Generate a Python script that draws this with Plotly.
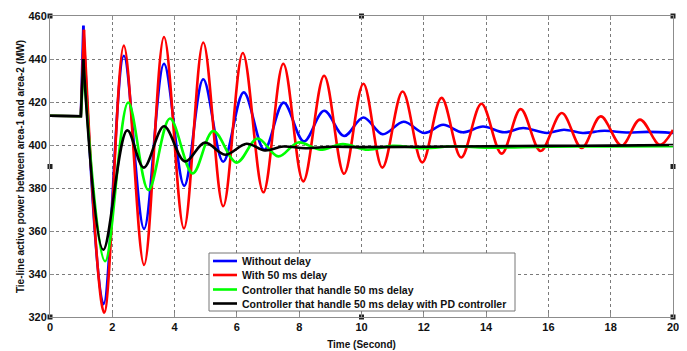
import plotly.graph_objects as go

# ---------------- data ----------------
names = ["Without delay", "With 50 ms delay",
         "Controller that handle 50 ms delay",
         "Controller that handle 50 ms delay with PD controller"]

# pre-disturbance part + first spike (drawn straight)
blue_x0 = [0, 0.99, 1.07]
blue_y0 = [413.6, 413.4, 455.5]
red_x0 = [0, 0.99, 1.09]
red_y0 = [413.6, 413.4, 453.6]
green_x0 = [0, 0.99, 1.08]
green_y0 = [413.6, 413.4, 436.5]
black_x0 = [0, 0.99, 1.07]
black_y0 = [413.6, 413.4, 440.0]

# oscillation part (peaks / troughs), smoothed by the library
blue_x = [1.07, 1.72, 2.37, 3.02, 3.66, 4.31, 4.92, 5.56, 6.22, 6.88, 7.5, 8.15,
          8.8, 9.44, 10.06, 10.68, 11.35, 12.02, 12.62, 13.25, 13.9, 14.58,
          15.19, 15.95, 16.5, 17.1, 17.8, 18.5, 19.2, 20]
blue_y = [455.5, 326.0, 441.5, 361.0, 437.8, 381.0, 430.6, 392.2, 424.5, 397.8,
          419.7, 401.7, 415.9, 404.2, 412.8, 405.0, 410.8, 405.6, 409.4, 405.9,
          408.6, 405.9, 407.9, 405.6, 407.1, 405.6, 406.6, 405.8, 406.1, 405.6]

red_x = [1.09, 1.74, 2.37, 3.02, 3.66, 4.3, 4.92, 5.56, 6.19, 6.85, 7.49, 8.13,
         8.8, 9.44, 10.06, 10.67, 11.32, 11.95, 12.57, 13.2, 13.85, 14.5, 15.11,
         15.75, 16.43, 17.07, 17.68, 18.35, 18.94, 19.58, 20]
red_y = [453.6, 322.0, 446.2, 344.2, 450.2, 361.2, 447.7, 371.5, 442.8, 378.0,
         437.8, 383.1, 432.2, 386.6, 428.5, 389.5, 424.9, 391.9, 421.9, 394.2,
         419.2, 396.0, 416.7, 397.2, 414.9, 398.6, 413.3, 399.7, 411.8, 400.1,
         407.0]

green_x = [1.08, 1.77, 2.51, 3.16, 3.85, 4.58, 5.24, 5.99, 6.66, 7.33, 7.97,
           8.67, 9.4, 10.2, 11.0, 12.0, 13.0, 14.0, 16.0, 18.0, 20.0]
green_y = [436.5, 345.9, 419.8, 379.0, 412.3, 386.8, 406.5, 391.8, 403.0, 394.7,
           401.2, 397.8, 400.4, 397.8, 399.6, 398.5, 399.4, 398.8, 399.2, 399.3,
           399.4]

black_x = [1.07, 1.71, 2.48, 3.01, 3.66, 4.33, 4.97, 5.62, 6.31, 6.9, 7.49,
           8.2, 9.0, 10.0, 12.0, 14.0, 16.0, 18.0, 20.0]
black_y = [440.0, 351.3, 406.8, 389.5, 408.7, 392.4, 401.1, 395.5, 400.6, 397.5,
           399.3, 398.5, 399.2, 399.0, 399.2, 399.4, 399.6, 399.7, 400.0]

x_ticks = [0, 2, 4, 6, 8, 10, 12, 14, 16, 18, 20]
y_ticks = [320, 340, 360, 380, 400, 420, 440, 460]
x_range = [0, 20]
y_range = [320, 460]

colors = ["#0000FF", "#FF0000", "#00FF00", "#000000"]

# ---------------- layout constants (pixels) ----------------
# the page body has an 8px margin, so the figure is shrunk to fit the window
OFF = 8
W, H = 687 - OFF, 351 - OFF
ML, MR, MT, MB = 50 - OFF, 14, 16 - OFF, 34
PW = W - ML - MR
PH = H - MT - MB


def px2paper_x(px):
    # px given in window coordinates
    return (px - OFF - ML) / PW


def px2paper_y(py):
    return (H - MB - (py - OFF)) / PH


font_family = "Liberation Sans, Arial, sans-serif"

# ---------------- figure ----------------
fig = go.Figure()
series = [
    (blue_x0, blue_y0, blue_x, blue_y),
    (red_x0, red_y0, red_x, red_y),
    (green_x0, green_y0, green_x, green_y),
    (black_x0, black_y0, black_x, black_y),
]
for i, (x0, y0, x1, y1) in enumerate(series):
    fig.add_trace(go.Scatter(x=x0, y=y0, mode="lines", name=names[i],
                             legendgroup=names[i], showlegend=False,
                             line=dict(color=colors[i], width=2.6),
                             hoverinfo="skip"))
    fig.add_trace(go.Scatter(x=x1, y=y1, mode="lines", name=names[i],
                             legendgroup=names[i], showlegend=False,
                             line=dict(color=colors[i], width=2.6,
                                       shape="spline", smoothing=1.0),
                             hoverinfo="skip"))

# MATLAB selection handles on the axes box
xm = (x_range[0] + x_range[1]) / 2
ym = (y_range[0] + y_range[1]) / 2
hx = [x_range[0], xm, x_range[1], x_range[0], x_range[1], x_range[0], xm, x_range[1]]
hy = [y_range[1], y_range[1], y_range[1], ym, ym, y_range[0], y_range[0], y_range[0]]
fig.add_trace(go.Scatter(x=hx, y=hy, mode="markers", showlegend=False,
                         cliponaxis=False, hoverinfo="skip",
                         marker=dict(symbol="square", size=5, color="#222222")))

# ---------------- custom legend (compact, like MATLAB) ----------------
leg_left, leg_right, leg_top, leg_bottom = 209, 515, 253, 311
row_y = [261, 275, 289.5, 303.5]
sample_x0, sample_x1, text_x = 213, 237, 240
shapes = [dict(type="rect", xref="paper", yref="paper",
               x0=px2paper_x(leg_left), x1=px2paper_x(leg_right),
               y0=px2paper_y(leg_bottom), y1=px2paper_y(leg_top),
               fillcolor="white", line=dict(color="#777777", width=1),
               layer="above")]
annotations = []
for i, nm in enumerate(names):
    shapes.append(dict(type="line", xref="paper", yref="paper",
                       x0=px2paper_x(sample_x0), x1=px2paper_x(sample_x1),
                       y0=px2paper_y(row_y[i]), y1=px2paper_y(row_y[i]),
                       line=dict(color=colors[i], width=2.6), layer="above"))
    annotations.append(dict(xref="paper", yref="paper",
                            x=px2paper_x(text_x), y=px2paper_y(row_y[i]),
                            xanchor="left", yanchor="middle", showarrow=False,
                            text=nm,
                            font=dict(family=font_family, size=10.5,
                                      color="#111111", weight="bold")))

axis_common = dict(
    showline=True, linecolor="#8c8c8c", linewidth=1, mirror="ticks",
    ticks="inside", ticklen=4, tickcolor="#8c8c8c",
    showgrid=True, gridcolor="#7a7a7a", griddash="dot", gridwidth=1,
    zeroline=False, automargin=False,
    tickfont=dict(family=font_family, size=11, color="#111111", weight="bold"),
)

fig.update_layout(
    width=W, height=H,
    margin=dict(l=ML, r=MR, t=MT, b=MB),
    paper_bgcolor="white", plot_bgcolor="white",
    xaxis=dict(range=x_range, tickvals=x_ticks, **axis_common,
               title=dict(text="Time (Second)", standoff=8,
                          font=dict(family=font_family, size=10, color="#111111",
                                    weight="bold"))),
    yaxis=dict(range=y_range, tickvals=y_ticks, **axis_common,
               title=dict(text="Tie-line active power between area-1 and area-2 (MW)",
                          standoff=1,
                          font=dict(family=font_family, size=10, color="#111111",
                                    weight="bold"))),
    shapes=shapes,
    annotations=annotations,
    showlegend=False,
)

fig.write_html("out.html")
